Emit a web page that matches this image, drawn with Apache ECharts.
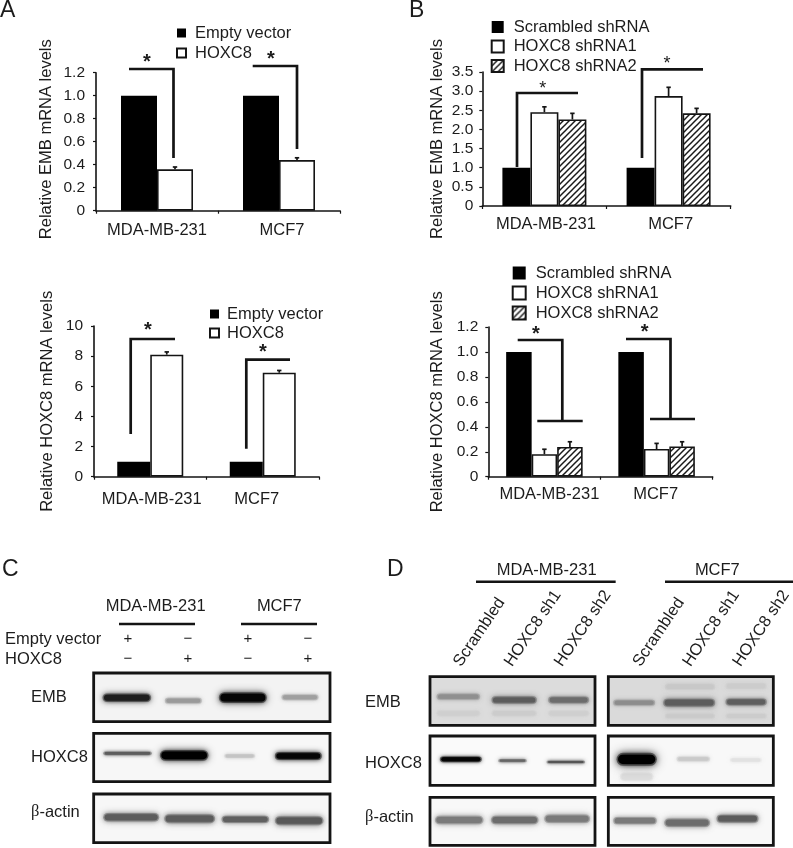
<!DOCTYPE html>
<html><head><meta charset="utf-8">
<style>html,body{margin:0;padding:0;background:#fff}#c{width:793px;height:848px}</style>
<script src="https://cdn.jsdelivr.net/npm/echarts@6/dist/echarts.min.js"></script>
</head><body><div id="c"></div>
<script>
// ---- data ----
const categories = ['MDA-MB-231', 'MCF7'];
const emptyVectorName = 'Empty vector';
const hoxc8Name = 'HOXC8';
const scrambledName = 'Scrambled shRNA';
const sh1Name = 'HOXC8 shRNA1';
const sh2Name = 'HOXC8 shRNA2';

const embOverEmpty = [1.0, 1.0];
const embOverHoxc8 = [0.36, 0.44];
const embOverHoxc8Err = [0.38, 0.46];

const hoxOverEmpty = [1.0, 1.0];
const hoxOverHoxc8 = [8.1, 6.9];
const hoxOverHoxc8Err = [8.28, 7.05];

const embKdScrambled = [1.0, 1.0];
const embKdSh1 = [2.45, 2.87];
const embKdSh1Err = [2.59, 3.1];
const embKdSh2 = [2.26, 2.42];
const embKdSh2Err = [2.42, 2.55];

const hoxKdScrambled = [1.0, 1.0];
const hoxKdSh1 = [0.18, 0.222];
const hoxKdSh1Err = [0.22, 0.267];
const hoxKdSh2 = [0.238, 0.243];
const hoxKdSh2Err = [0.28, 0.28];

// ---- styles ----
const FONT = '"Liberation Sans", Arial, sans-serif';
const INK = '#141414';

function hatchPattern() {
  const s = 6, cv = document.createElement('canvas');
  cv.width = s; cv.height = s;
  const g = cv.getContext('2d');
  g.fillStyle = '#fff'; g.fillRect(0, 0, s, s);
  g.strokeStyle = '#1a1a1a'; g.lineWidth = 1.5;
  [[-1, 1, 1, -1], [0, s, s, 0], [s - 1, s + 1, s + 1, s - 1]].forEach(p => {
    g.beginPath(); g.moveTo(p[0], p[1]); g.lineTo(p[2], p[3]); g.stroke();
  });
  return { image: cv, repeat: 'repeat' };
}
const hatch = hatchPattern();
const solidStyle = { color: '#000' };
const openStyle = { color: '#fff', borderColor: INK, borderWidth: 1.6 };
const hatchStyle = { color: hatch, borderColor: INK, borderWidth: 1.6 };

const panels = [
  { grid: { left: 96, top: 72.7, width: 244, height: 138 }, max: 1.2, interval: 0.2, dec: 1, title: 'Relative EMB mRNA levels', gap: 41, titleShift: 5, labelMargin: 11, yMargin: 11, shifts: [0, 3],
    barWidth: 36, series: [[emptyVectorName, embOverEmpty, solidStyle, null], [hoxc8Name, embOverHoxc8, openStyle, embOverHoxc8Err]] },
  { grid: { left: 94, top: 326, width: 225, height: 150.7 }, max: 10, interval: 2, dec: 0, title: 'Relative HOXC8 mRNA levels', gap: 38, titleShift: 0, labelMargin: 14, yMargin: 11, shifts: [1.5, -6],
    barWidth: 33, series: [[emptyVectorName, hoxOverEmpty, solidStyle, null], [hoxc8Name, hoxOverHoxc8, openStyle, hoxOverHoxc8Err]] },
  { grid: { left: 482.3, top: 72, width: 248.4, height: 134 }, max: 3.5, interval: 0.5, dec: 1, title: 'Relative EMB mRNA levels', gap: 36, titleShift: 0, labelMargin: 10, yMargin: 9, shifts: [1.5, 2],
    barWidth: 28, series: [[scrambledName, embKdScrambled, solidStyle, null], [sh1Name, embKdSh1, openStyle, embKdSh1Err], [sh2Name, embKdSh2, hatchStyle, embKdSh2Err]] },
  { grid: { left: 488.3, top: 327, width: 224.4, height: 149.7 }, max: 1.2, interval: 0.2, dec: 1, title: 'Relative HOXC8 mRNA levels', gap: 42, titleShift: 0, labelMargin: 9, yMargin: 10, shifts: [5, -1],
    barWidth: 25.5, series: [[scrambledName, hoxKdScrambled, solidStyle, null], [sh1Name, hoxKdSh1, openStyle, hoxKdSh1Err], [sh2Name, hoxKdSh2, hatchStyle, hoxKdSh2Err]] }
];

const grid = [], xAxis = [], yAxis = [], series = [];
panels.forEach((p, i) => {
  grid.push(p.grid);
  xAxis.push({
    type: 'category', gridIndex: i,
    data: categories.map((c, k) => ({
      value: c,
      textStyle: { padding: p.shifts[k] >= 0 ? [0, 0, 0, 2 * p.shifts[k]] : [0, -2 * p.shifts[k], 0, 0] }
    })),
    axisLine: { lineStyle: { color: INK, width: 1.6 } },
    axisTick: { show: true, length: 3, lineStyle: { color: INK, width: 1.2 } },
    axisLabel: { color: '#1c1c1c', fontFamily: FONT, fontSize: 16.5, margin: p.labelMargin, interval: 0 },
    splitLine: { show: false }
  });
  yAxis.push({
    type: 'value', gridIndex: i, min: 0, max: p.max, interval: p.interval,
    name: p.title, nameLocation: 'middle', nameGap: p.gap, nameRotate: 90,
    nameTextStyle: { color: '#1c1c1c', fontFamily: FONT, fontSize: 16.5, padding: [0, 0, 0, p.titleShift] },
    axisLine: { show: true, lineStyle: { color: INK, width: 1.6 } },
    axisTick: { show: true, length: 3, lineStyle: { color: INK, width: 1.2 } },
    axisLabel: { color: '#1c1c1c', fontFamily: FONT, fontSize: 15.5, margin: p.yMargin,
      formatter: v => v === 0 ? '0' : v.toFixed(p.dec) },
    splitLine: { show: false }
  });
  const n = p.series.length;
  p.series.forEach((s, j) => {
    series.push({
      type: 'bar', name: s[0], xAxisIndex: i, yAxisIndex: i, data: s[1],
      barWidth: p.barWidth, barGap: 0, itemStyle: s[2], silent: true, z: 2
    });
    if (s[3]) {
      series.push({
        type: 'custom', xAxisIndex: i, yAxisIndex: i, silent: true, z: 3,
        data: categories.map((c, k) => [k, s[1][k], s[3][k]]),
        encode: { x: 0, y: [1, 2] },
        renderItem: (params, api) => {
          const off = (j - (n - 1) / 2) * p.barWidth;
          const a = api.coord([api.value(0), api.value(1)]);
          const b = api.coord([api.value(0), api.value(2)]);
          const x = a[0] + off, cap = 2.2;
          const st = { stroke: INK, lineWidth: 1.7, fill: null };
          return { type: 'group', children: [
            { type: 'line', shape: { x1: x, y1: a[1], x2: x, y2: b[1] }, style: st },
            { type: 'line', shape: { x1: x - cap, y1: b[1], x2: x + cap, y2: b[1] }, style: st }
          ] };
        }
      });
    }
  });
});

function leg(names, left, top, w, h, gap, pad) {
  return { orient: 'vertical', left, top, icon: 'rect', itemWidth: w, itemHeight: h, itemGap: gap,
    selectedMode: false, padding: 0,
    textStyle: { color: '#1c1c1c', fontFamily: FONT, fontSize: 16.5, padding: [0, 0, 0, pad], lineHeight: 18 },
    data: names.map(name => ({ name, itemStyle: { borderWidth: name === names[0] ? 0 : 2 } })) };
}
const legend = [
  leg([emptyVectorName, hoxc8Name], 176, 24, 9, 9, 2, 4),
  leg([emptyVectorName, hoxc8Name], 209, 305, 9, 9, 1, 3),
  leg([scrambledName, sh1Name, sh2Name], 490.7, 18, 12, 12, 1.5, 5),
  leg([scrambledName, sh1Name, sh2Name], 511.7, 264, 13, 13, 2, 5)
];

// ---- annotations ----
const g = [];
function txt(text, x, y, o) {
  g.push({ type: 'text', x, y, rotation: (o && o.rot) || 0, z: 20, silent: true,
    style: { text, fill: '#1c1c1c', fontFamily: (o && o.family) || FONT, fontSize: (o && o.size) || 16.5,
      fontWeight: (o && o.weight) || 'normal',
      align: (o && o.align) || 'left', verticalAlign: 'middle' } });
}
function path(pts, w) {
  g.push({ type: 'polyline', z: 20, silent: true, shape: { points: pts },
    style: { stroke: INK, lineWidth: w || 2.7, fill: null, lineJoin: 'miter' } });
}
txt('A', 0, 11, { size: 23 }); txt('B', 409, 11, { size: 23 });
txt('C', 2, 570, { size: 23 }); txt('D', 387, 570, { size: 23 });

// significance brackets
path([[129, 69], [173.5, 69], [173.5, 158]]);
path([[252.7, 66], [297, 66], [297, 149]]);
path([[175, 339], [130.7, 339], [130.7, 434]]);
path([[290, 359.7], [246.3, 359.7], [246.3, 448.7]]);
path([[578, 93], [517, 93], [517, 167]]);
path([[703, 69.3], [642, 69.3], [642, 158]]);
path([[517.7, 340], [562.3, 340], [562.3, 421]]); path([[537.3, 421], [582.7, 421]]);
path([[626, 339], [670.5, 339], [670.5, 419]]); path([[650, 419], [695, 419]]);
[[147, 59, 1], [271, 56, 1], [148, 327, 1], [263, 349, 1], [542.7, 86, 0], [667, 61, 0], [536, 331, 1], [644.7, 329, 1]]
  .forEach(s => txt('*', s[0], s[1] + 3, { align: 'center', size: s[2] ? 20 : 18, weight: s[2] ? 'bold' : 'normal' }));

// blot panels; coordinates below are in 3x crop units relative to an origin
function blot(ox, oy, box, bg, bands) {
  const X = v => ox + v / 3, Y = v => oy + v / 3;
  g.push({ type: 'rect', z: 10, silent: true,
    shape: { x: X(box[0]), y: Y(box[1]), width: (box[2] - box[0]) / 3, height: (box[3] - box[1]) / 3 },
    style: { fill: bg } });
  bands.forEach(b => {
    const h = b[3] / 3, w = (b[1] - b[0]) / 3;
    // soft halo, then the denser core of the band
    const hh = h * 0.85;
    g.push({ type: 'rect', z: 11, silent: true,
      shape: { x: X(b[0]) + 1.5, y: Y(b[2]) - hh / 2, width: w - 3, height: hh, r: hh / 2 },
      style: { fill: b[4], opacity: 0.45, shadowBlur: Math.max(4, h * 0.7), shadowColor: b[4] } });
    const ih = Math.max(1.5, h * 0.6);
    g.push({ type: 'rect', z: 11, silent: true,
      shape: { x: X(b[0]) + 3, y: Y(b[2]) - ih / 2, width: w - 6, height: ih, r: ih / 2 },
      style: { fill: b[4], shadowBlur: Math.max(3, h * 0.45), shadowColor: b[4] } });
  });
  g.push({ type: 'rect', z: 12, silent: true,
    shape: { x: X(box[0]), y: Y(box[1]), width: (box[2] - box[0]) / 3, height: (box[3] - box[1]) / 3 },
    style: { fill: null, stroke: '#141414', lineWidth: 2.8 } });
}
// Panel C
const cx = 0, cy = 550;
txt('MDA-MB-231', cx + 467 / 3, cy + 168 / 3, { align: 'center' });
txt('MCF7', cx + 838 / 3, cy + 168 / 3, { align: 'center' });
path([[119, 624], [195, 624]], 2.5); path([[241, 624], [317, 624]], 2.5);
txt('Empty vector', 5, 639); txt('HOXC8', 5, 659);
[[128, '+', '\u2212'], [188, '\u2212', '+'], [248, '+', '\u2212'], [308, '\u2212', '+']].forEach(r => {
  txt(r[1], r[0], 639, { align: 'center', size: 15 });
  txt(r[2], r[0], 659, { align: 'center', size: 15 });
});
txt('EMB', 31, 697); txt('HOXC8', 31, 757);
function beta(x, y) {
  g.push({ type: 'text', x, y, z: 20, silent: true, style: {
    rich: { s: { fontFamily: '"Liberation Serif", serif', fontSize: 16.5, fill: '#1c1c1c' }, t: { fontFamily: FONT, fontSize: 16.5, fill: '#1c1c1c' } },
    text: '{s|\u03B2}{t|-actin}', verticalAlign: 'middle' } });
}
beta(31, 812);
blot(cx, cy, [281, 369, 990, 515], '#f3f3f3', [
  [303, 458, 443, 30, '#1e1e1e'], [490, 610, 452, 20, '#9a9a9a'], [652, 805, 443, 38, '#050505'], [840, 960, 442, 20, '#9f9f9f']]);
blot(cx, cy, [281, 550, 990, 695], '#f7f7f7', [
  [305, 460, 610, 13, '#5c5c5c'], [475, 630, 616, 38, '#000'], [668, 770, 618, 14, '#c4c4c4'], [820, 970, 618, 28, '#050505']]);
blot(cx, cy, [281, 732, 990, 878], '#f7f7f7', [
  [305, 482, 802, 30, '#5c5c5c'], [488, 650, 806, 32, '#5c5c5c'], [660, 812, 808, 26, '#606060'], [820, 975, 812, 32, '#585858']]);

// Panel D
const dx = 370, dy = 550;
txt('MDA-MB-231', dx + 530 / 3, dy + 60 / 3, { align: 'center' });
txt('MCF7', dx + 1042 / 3, dy + 60 / 3, { align: 'center' });
path([[dx + 318 / 3, dy + 95 / 3], [dx + 737 / 3, dy + 95 / 3]], 2.5);
path([[dx + 885 / 3, dy + 95 / 3], [dx + 1269 / 3, dy + 95 / 3]], 2.5);
[[262, 'Scrambled'], [415, 'HOXC8 sh1'], [565, 'HOXC8 sh2'], [800, 'Scrambled'], [950, 'HOXC8 sh1'], [1100, 'HOXC8 sh2']]
  .forEach(r => txt(r[1], dx + r[0] / 3, dy + 345 / 3, { rot: 56 * Math.PI / 180 }));
txt('EMB', 365, 702); txt('HOXC8', 365, 763); beta(365, 817);
blot(dx, dy, [180, 380, 675, 526], '#dcdcdc', [
  [195, 335, 490, 20, '#cfcfcf'], [360, 505, 490, 20, '#cccccc'], [530, 662, 490, 20, '#cfcfcf'],
  [195, 335, 440, 22, '#8f8f8f'], [360, 505, 450, 26, '#5c5c5c'], [530, 662, 450, 24, '#6c6c6c']]);
blot(dx, dy, [715, 380, 1210, 526], '#dadada', [
  [880, 1040, 410, 22, '#c8c8c8'], [1062, 1195, 408, 22, '#cccccc'], [880, 1040, 498, 18, '#cacaca'], [1062, 1195, 498, 18, '#cccccc'],
  [725, 860, 458, 20, '#8c8c8c'], [875, 1040, 458, 28, '#5c5c5c'], [1062, 1195, 456, 24, '#5e5e5e']]);
blot(dx, dy, [180, 558, 675, 706], '#fafafa', [
  [205, 340, 628, 20, '#050505'], [380, 475, 632, 11, '#666'], [525, 650, 636, 11, '#555']]);
blot(dx, dy, [715, 558, 1210, 706], '#f8f8f8', [
  [745, 855, 680, 30, '#dcdcdc'], [735, 865, 628, 46, '#000'], [915, 1025, 627, 18, '#cacaca'], [1075, 1180, 630, 14, '#e2e2e2']]);
blot(dx, dy, [180, 742, 675, 886], '#f8f8f8', [
  [190, 345, 810, 30, '#7a7a7a'], [358, 510, 810, 30, '#6c6c6c'], [518, 665, 806, 30, '#7a7a7a']]);
blot(dx, dy, [715, 742, 1210, 886], '#f8f8f8', [
  [725, 865, 812, 26, '#7a7a7a'], [878, 1025, 818, 30, '#6c6c6c'], [1035, 1170, 806, 28, '#5c5c5c']]);

const chart = echarts.init(document.getElementById('c'), null, { renderer: 'canvas' });
chart.setOption({
  backgroundColor: '#fff', animation: false, tooltip: { show: false },
  grid, xAxis, yAxis, series, legend, graphic: { elements: g }
});
</script>
</body></html>
